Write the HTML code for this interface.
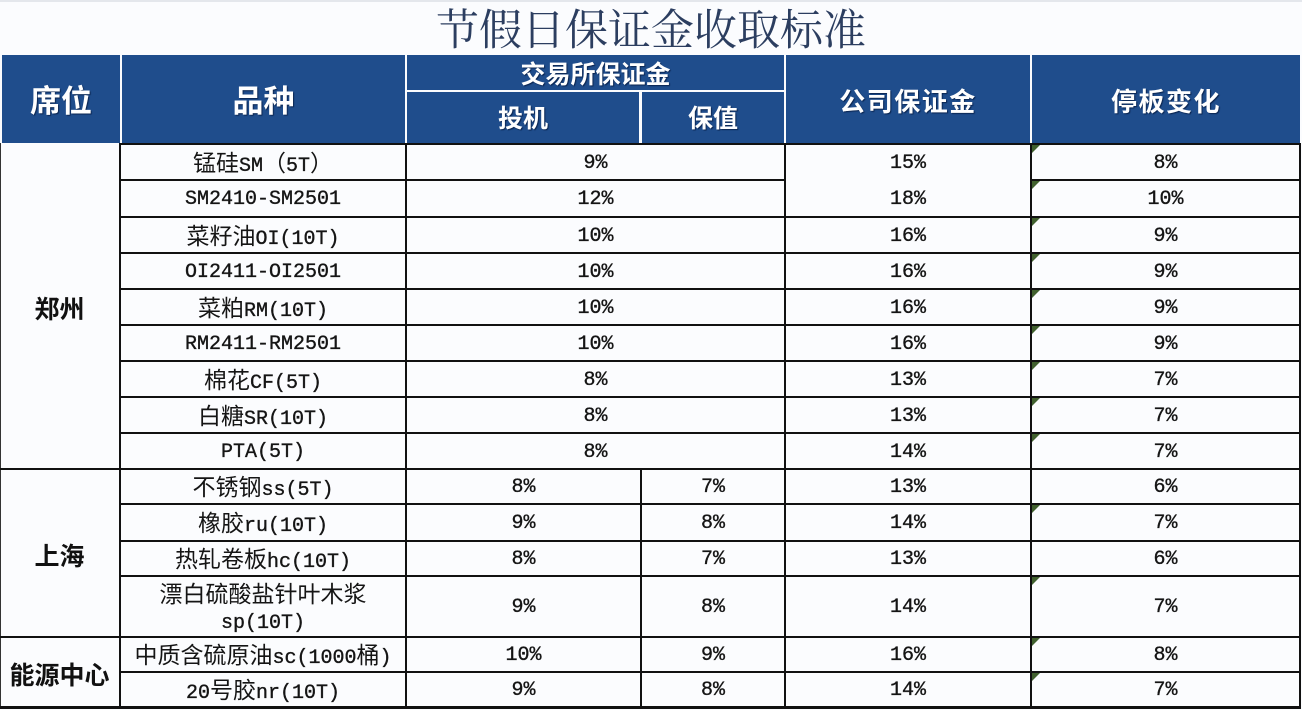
<!DOCTYPE html>
<html><head><meta charset="utf-8">
<style>
*{margin:0;padding:0;box-sizing:border-box}
body{width:1302px;height:710px;background:#fbfcfe;position:relative;overflow:hidden;font-family:"Liberation Mono","Noto Sans CJK SC",monospace;color:#151515}
.title{position:absolute;left:0;top:10px;width:1302px;height:43px;line-height:43px;text-align:center;font-family:"Liberation Serif","Noto Serif CJK SC",serif;font-size:43px;color:#2c3e60;white-space:nowrap}
.h{position:absolute;background:#1f4d8c;color:#fff;font-family:"Liberation Sans","Noto Sans CJK SC",sans-serif;font-weight:700;display:flex;align-items:center;justify-content:center;text-shadow:1px 1px 1px #0b2550;white-space:nowrap;line-height:1}
.c{position:absolute;display:flex;align-items:center;justify-content:center;font-size:20px;white-space:nowrap;text-align:center;padding-top:3px}
.c > b{font-weight:400;display:block;line-height:26px;-webkit-text-stroke:0.35px #151515}
.z{font-family:"Noto Sans CJK SC",sans-serif;font-size:23px;-webkit-text-stroke:0}
.s{font-family:"Liberation Sans","Noto Sans CJK SC",sans-serif;font-weight:700;font-size:25px;color:#111}
.hl{position:absolute;height:2px;background:#111}
.vl{position:absolute;width:2px;background:#111}
.t{position:absolute;width:0;height:0;border-top:8px solid #40602e;border-right:8px solid transparent}
</style></head><body>
<div style="position:absolute;left:0;top:0;width:1302px;height:2px;background:#e4e7ec"></div>
<div class="title">节假日保证金收取标准</div>

<!-- header -->
<div class="h" style="left:2px;top:55px;width:118px;height:88px;font-size:31px;padding-top:4px">席位</div>
<div class="h" style="left:122px;top:55px;width:283px;height:88px;font-size:31px;padding-top:4px">品种</div>
<div class="h" style="left:407px;top:55px;width:377px;height:35px;font-size:25px;padding-top:5px">交易所保证金</div>
<div class="h" style="left:407px;top:92px;width:232px;height:51px;font-size:25px;padding-top:4px">投机</div>
<div class="h" style="left:642px;top:92px;width:142px;height:51px;font-size:25px;padding-top:4px">保值</div>
<div class="h" style="left:786px;top:55px;width:244px;height:88px;font-size:26px;letter-spacing:1.5px;padding-top:6px">公司保证金</div>
<div class="h" style="left:1032px;top:55px;width:268px;height:88px;font-size:26px;letter-spacing:1.5px;padding-top:6px">停板变化</div>

<!-- lines -->
<div class="vl" style="left:0;top:143px;height:566px;width:1px;background:#333"></div>
<div class="hl" style="left:120px;top:143px;width:1181px"></div>
<div class="hl" style="left:120px;top:179px;width:665px"></div>
<div class="hl" style="left:1030px;top:179px;width:271px"></div>
<div class="hl" style="left:120px;top:216px;width:1181px"></div>
<div class="hl" style="left:120px;top:252px;width:1181px"></div>
<div class="hl" style="left:120px;top:288px;width:1181px"></div>
<div class="hl" style="left:120px;top:324px;width:1181px"></div>
<div class="hl" style="left:120px;top:360px;width:1181px"></div>
<div class="hl" style="left:120px;top:396px;width:1181px"></div>
<div class="hl" style="left:120px;top:432px;width:1181px"></div>
<div class="hl" style="left:0;top:468px;width:1301px"></div>
<div class="hl" style="left:120px;top:503px;width:1181px"></div>
<div class="hl" style="left:120px;top:540px;width:1181px"></div>
<div class="hl" style="left:120px;top:575px;width:1181px"></div>
<div class="hl" style="left:0;top:636px;width:1301px"></div>
<div class="hl" style="left:120px;top:671px;width:1181px"></div>
<div class="hl" style="left:0;top:706px;width:1301px;height:3px"></div>

<div class="vl" style="left:119px;top:143px;height:566px"></div>
<div class="vl" style="left:405px;top:143px;height:566px"></div>
<div class="vl" style="left:640px;top:468px;height:241px"></div>
<div class="vl" style="left:784px;top:143px;height:566px"></div>
<div class="vl" style="left:1030px;top:143px;height:566px"></div>
<div class="vl" style="left:1299px;top:143px;height:566px"></div>

<!-- triangles -->
<div class="t" style="left:1032px;top:145px"></div>
<div class="t" style="left:1032px;top:181px"></div>
<div class="t" style="left:1032px;top:218px"></div>
<div class="t" style="left:1032px;top:254px"></div>
<div class="t" style="left:1032px;top:290px"></div>
<div class="t" style="left:1032px;top:326px"></div>
<div class="t" style="left:1032px;top:362px"></div>
<div class="t" style="left:1032px;top:398px"></div>
<div class="t" style="left:1032px;top:434px"></div>
<div class="t" style="left:1032px;top:505px"></div>
<div class="t" style="left:1032px;top:577px"></div>
<div class="t" style="left:1032px;top:638px"></div>
<div class="t" style="left:1032px;top:673px"></div>

<!-- 席位 -->
<div class="c s" style="left:0;top:145px;width:119px;height:323px">郑州</div>
<div class="c s" style="left:0;top:470px;width:119px;height:166px">上海</div>
<div class="c s" style="left:0;top:638px;width:119px;height:68px">能源中心</div>

<!-- 品种 -->
<div class="c" style="left:121px;top:145px;width:284px;height:34px"><b><span class="z">锰硅</span>SM<span class="z">（</span>5T<span class="z">）</span></b></div>
<div class="c" style="left:121px;top:181px;width:284px;height:35px"><b>SM2410-SM2501</b></div>
<div class="c" style="left:121px;top:218px;width:284px;height:34px"><b><span class="z">菜籽油</span>OI(10T)</b></div>
<div class="c" style="left:121px;top:254px;width:284px;height:34px"><b>OI2411-OI2501</b></div>
<div class="c" style="left:121px;top:290px;width:284px;height:34px"><b><span class="z">菜粕</span>RM(10T)</b></div>
<div class="c" style="left:121px;top:326px;width:284px;height:34px"><b>RM2411-RM2501</b></div>
<div class="c" style="left:121px;top:362px;width:284px;height:34px"><b><span class="z">棉花</span>CF(5T)</b></div>
<div class="c" style="left:121px;top:398px;width:284px;height:34px"><b><span class="z">白糖</span>SR(10T)</b></div>
<div class="c" style="left:121px;top:434px;width:284px;height:34px"><b>PTA(5T)</b></div>
<div class="c" style="left:121px;top:470px;width:284px;height:33px"><b><span class="z">不锈钢</span>ss(5T)</b></div>
<div class="c" style="left:121px;top:505px;width:284px;height:35px"><b><span class="z">橡胶</span>ru(10T)</b></div>
<div class="c" style="left:121px;top:542px;width:284px;height:33px"><b><span class="z">热轧卷板</span>hc(10T)</b></div>
<div class="c" style="left:121px;top:577px;width:284px;height:59px"><b><span class="z">漂白硫酸盐针叶木浆</span><br>sp(10T)</b></div>
<div class="c" style="left:121px;top:638px;width:284px;height:33px"><b><span class="z">中质含硫原油</span>sc(1000<span class="z">桶</span>)</b></div>
<div class="c" style="left:121px;top:673px;width:284px;height:33px"><b>20<span class="z">号胶</span>nr(10T)</b></div>

<!-- 交易所 merged -->
<div class="c" style="left:407px;top:145px;width:377px;height:34px"><b>9%</b></div>
<div class="c" style="left:407px;top:181px;width:377px;height:35px"><b>12%</b></div>
<div class="c" style="left:407px;top:218px;width:377px;height:34px"><b>10%</b></div>
<div class="c" style="left:407px;top:254px;width:377px;height:34px"><b>10%</b></div>
<div class="c" style="left:407px;top:290px;width:377px;height:34px"><b>10%</b></div>
<div class="c" style="left:407px;top:326px;width:377px;height:34px"><b>10%</b></div>
<div class="c" style="left:407px;top:362px;width:377px;height:34px"><b>8%</b></div>
<div class="c" style="left:407px;top:398px;width:377px;height:34px"><b>8%</b></div>
<div class="c" style="left:407px;top:434px;width:377px;height:34px"><b>8%</b></div>
<!-- 投机 -->
<div class="c" style="left:407px;top:470px;width:233px;height:33px"><b>8%</b></div>
<div class="c" style="left:407px;top:505px;width:233px;height:35px"><b>9%</b></div>
<div class="c" style="left:407px;top:542px;width:233px;height:33px"><b>8%</b></div>
<div class="c" style="left:407px;top:577px;width:233px;height:59px"><b>9%</b></div>
<div class="c" style="left:407px;top:638px;width:233px;height:33px"><b>10%</b></div>
<div class="c" style="left:407px;top:673px;width:233px;height:33px"><b>9%</b></div>
<!-- 保值 -->
<div class="c" style="left:642px;top:470px;width:142px;height:33px"><b>7%</b></div>
<div class="c" style="left:642px;top:505px;width:142px;height:35px"><b>8%</b></div>
<div class="c" style="left:642px;top:542px;width:142px;height:33px"><b>7%</b></div>
<div class="c" style="left:642px;top:577px;width:142px;height:59px"><b>8%</b></div>
<div class="c" style="left:642px;top:638px;width:142px;height:33px"><b>9%</b></div>
<div class="c" style="left:642px;top:673px;width:142px;height:33px"><b>8%</b></div>

<!-- 公司 -->
<div class="c" style="left:786px;top:145px;width:244px;height:34px"><b>15%</b></div>
<div class="c" style="left:786px;top:181px;width:244px;height:35px"><b>18%</b></div>
<div class="c" style="left:786px;top:218px;width:244px;height:34px"><b>16%</b></div>
<div class="c" style="left:786px;top:254px;width:244px;height:34px"><b>16%</b></div>
<div class="c" style="left:786px;top:290px;width:244px;height:34px"><b>16%</b></div>
<div class="c" style="left:786px;top:326px;width:244px;height:34px"><b>16%</b></div>
<div class="c" style="left:786px;top:362px;width:244px;height:34px"><b>13%</b></div>
<div class="c" style="left:786px;top:398px;width:244px;height:34px"><b>13%</b></div>
<div class="c" style="left:786px;top:434px;width:244px;height:34px"><b>14%</b></div>
<div class="c" style="left:786px;top:470px;width:244px;height:33px"><b>13%</b></div>
<div class="c" style="left:786px;top:505px;width:244px;height:35px"><b>14%</b></div>
<div class="c" style="left:786px;top:542px;width:244px;height:33px"><b>13%</b></div>
<div class="c" style="left:786px;top:577px;width:244px;height:59px"><b>14%</b></div>
<div class="c" style="left:786px;top:638px;width:244px;height:33px"><b>16%</b></div>
<div class="c" style="left:786px;top:673px;width:244px;height:33px"><b>14%</b></div>

<!-- 停板 -->
<div class="c" style="left:1032px;top:145px;width:267px;height:34px"><b>8%</b></div>
<div class="c" style="left:1032px;top:181px;width:267px;height:35px"><b>10%</b></div>
<div class="c" style="left:1032px;top:218px;width:267px;height:34px"><b>9%</b></div>
<div class="c" style="left:1032px;top:254px;width:267px;height:34px"><b>9%</b></div>
<div class="c" style="left:1032px;top:290px;width:267px;height:34px"><b>9%</b></div>
<div class="c" style="left:1032px;top:326px;width:267px;height:34px"><b>9%</b></div>
<div class="c" style="left:1032px;top:362px;width:267px;height:34px"><b>7%</b></div>
<div class="c" style="left:1032px;top:398px;width:267px;height:34px"><b>7%</b></div>
<div class="c" style="left:1032px;top:434px;width:267px;height:34px"><b>7%</b></div>
<div class="c" style="left:1032px;top:470px;width:267px;height:33px"><b>6%</b></div>
<div class="c" style="left:1032px;top:505px;width:267px;height:35px"><b>7%</b></div>
<div class="c" style="left:1032px;top:542px;width:267px;height:33px"><b>6%</b></div>
<div class="c" style="left:1032px;top:577px;width:267px;height:59px"><b>7%</b></div>
<div class="c" style="left:1032px;top:638px;width:267px;height:33px"><b>8%</b></div>
<div class="c" style="left:1032px;top:673px;width:267px;height:33px"><b>7%</b></div>
</body></html>
